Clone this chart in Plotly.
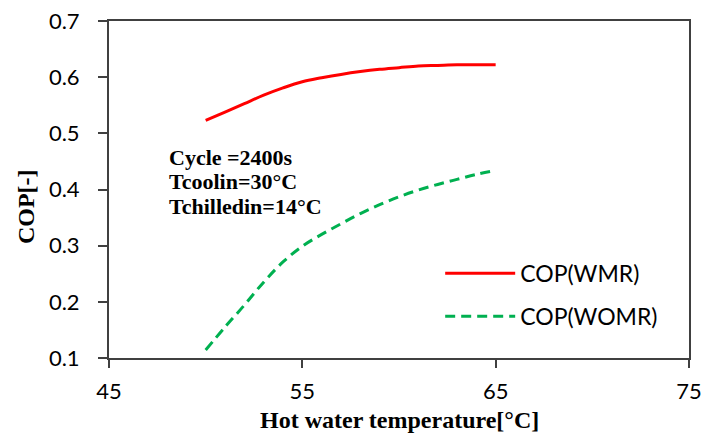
import plotly.graph_objects as go

temps = [50, 51, 52, 53, 54, 55, 56, 57, 58, 59, 60, 61, 62, 63, 64, 65]
cop_wmr = [0.523, 0.538, 0.553, 0.568, 0.581, 0.592, 0.599, 0.605, 0.610, 0.614, 0.617, 0.620, 0.621, 0.622, 0.622, 0.622]
cop_womr = [0.114, 0.155, 0.194, 0.235, 0.271, 0.299, 0.320, 0.339, 0.357, 0.373, 0.387, 0.399, 0.409, 0.418, 0.427, 0.434]

x_ticks = [45, 55, 65, 75]
y_ticks = [0.1, 0.2, 0.3, 0.4, 0.5, 0.6, 0.7]
note_lines = ["Cycle =2400s", "Tcoolin=30°C", "Tchilledin=14°C"]

fig = go.Figure()
fig.add_trace(go.Scatter(x=temps, y=cop_wmr, mode="lines", name="COP(WMR)", legendgroup="a",
                         line=dict(color="#ff0000", width=3, shape="spline")))
fig.add_trace(go.Scatter(x=temps, y=cop_womr, mode="lines", name="COP(WOMR)", legendgroup="b",
                         line=dict(color="#00b050", width=3, dash="10px,6px", shape="spline")))

sans = "Lato, Open Sans, sans-serif"
serif = "Liberation Serif, Times New Roman, serif"

annotations = []
for i, t in enumerate(note_lines):
    annotations.append(dict(
        text=f"<b>{t}</b>", x=0.1, y=0.5964 - i * 0.0727, xref="paper", yref="paper",
        xanchor="left", yanchor="middle", align="left", showarrow=False,
        font=dict(family=serif, size=22, color="#000")))
annotations.append(dict(
    text="<b>Hot water temperature[°C]</b>", x=0.5, y=-0.184, xref="paper", yref="paper",
    xanchor="center", yanchor="middle", showarrow=False,
    font=dict(family=serif, size=24, color="#000")))
annotations.append(dict(
    text="<b>COP[-]</b>", x=-0.143, y=0.448, xref="paper", yref="paper", textangle=-90,
    xanchor="center", yanchor="middle", showarrow=False,
    font=dict(family=serif, size=24, color="#000")))

fig.update_layout(
    width=718, height=434,
    margin=dict(l=101, r=37, t=13, b=84),
    paper_bgcolor="white", plot_bgcolor="white",
    showlegend=True,
    legend=dict(x=0.571, y=0.315, xanchor="left", yanchor="top",
                font=dict(family=sans, size=23, color="#000"),
                itemwidth=70, bgcolor="rgba(0,0,0,0)", tracegroupgap=10),
    xaxis=dict(range=[45, 75], tickvals=x_ticks, ticktext=[str(v) for v in x_ticks],
               showgrid=False, zeroline=False, showline=True, linecolor="#404040", linewidth=2,
               mirror=True, ticks="outside", ticklen=8, tickwidth=2, tickcolor="#404040",
               tickfont=dict(family=sans, size=22, color="#000"), automargin=False,
               ticklabelstandoff=5, ticklabeloverflow="allow"),
    yaxis=dict(range=[0.0999, 0.7001], tickvals=y_ticks, ticktext=[f"{v:.1f}" for v in y_ticks],
               showgrid=False, zeroline=False, showline=True, linecolor="#404040", linewidth=2,
               mirror=True, ticks="outside", ticklen=9, tickwidth=2, tickcolor="#404040",
               tickfont=dict(family=sans, size=22, color="#000"), automargin=False,
               ticklabelstandoff=14, ticklabeloverflow="allow"),
    annotations=annotations,
)

fig.write_html("out.html")
